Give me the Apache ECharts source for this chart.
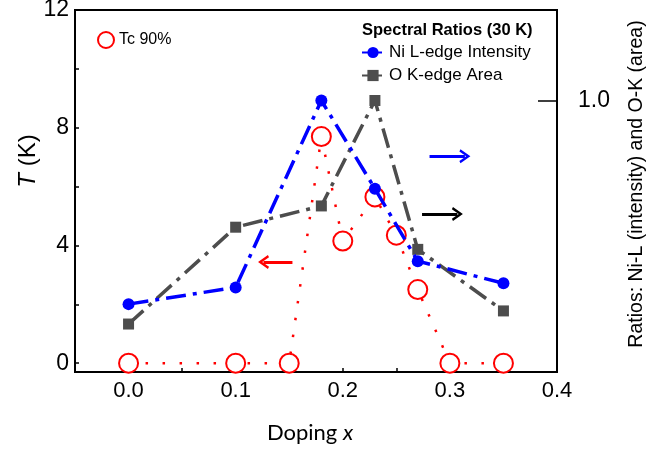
<!DOCTYPE html>
<html>
<head>
<meta charset="utf-8">
<script src="https://cdn.jsdelivr.net/npm/echarts@6/dist/echarts.min.js"></script>
<style>
  html, body { margin: 0; padding: 0; background: #fff; }
  #chart { width: 646px; height: 453px; }
</style>
</head>
<body>
<div id="chart"></div>
<script>
// Tc 90% (left axis, K)
var dopingTc = [0, 0.1, 0.15, 0.18, 0.2, 0.23, 0.25, 0.27, 0.3, 0.35];
var tc90 = [0, 0, 0, 7.7, 4.15, 5.65, 4.35, 2.5, 0, 0];

// spectral ratios at 30 K (right axis)
var dopingRatio = [0, 0.1, 0.18, 0.23, 0.27, 0.35];
var niL = [0.55, 0.587, 1.0, 0.805, 0.645, 0.596];
var oK = [0.506, 0.72, 0.767, 1.0, 0.671, 0.535];

var xLabels = [0, 0.1, 0.2, 0.3, 0.4];
var xTicks = [0, 0.05, 0.1, 0.15, 0.2, 0.25, 0.3, 0.35];
var yLabels = [0, 4, 8, 12];
var yTicks = [0, 2, 4, 6, 8, 10];
var ratioLabels = [1.0];

// annotation arrows [from, to]
var arrowTc = [[0.153, 3.44], [0.126, 3.44]];
var arrowNi = [[0.281, 0.877], [0.314, 0.877]];
var arrowO = [[0.274, 0.749], [0.307, 0.749]];

var chevron = 'path://M5,0 L10,9 L8.4,10 L5,3.8 L1.6,10 L0,9 Z';
var font = 'Liberation Sans, Arial, sans-serif';

function pairs(xs, ys) {
	return xs.map(function(x, i) { return [x, ys[i]]; });
}

function arrowLine(a, color) {
	return {
		silent: true,
		symbol: ['none', chevron],
		symbolSize: [14, 11],
		label: { show: false },
		lineStyle: { color: color, width: 3, type: 'solid' },
		emphasis: { disabled: true },
		data: [[{ coord: a[0] }, { coord: a[1] }]]
	};
}

var myChart = echarts.init(document.getElementById('chart'));

var option = {
	animation: false,
	backgroundColor: '#fff',
	textStyle: { fontFamily: font },
	title: {
		text: 'Spectral Ratios (30 K)',
		left: 362,
		top: 22,
		padding: 0,
		textStyle: { fontFamily: font, fontSize: 16.5, fontWeight: 'bold', color: '#000' }
	},
	legend: [{
		data: ['Tc 90%'],
		left: 97,
		top: 31,
		padding: 0,
		icon: 'emptyCircle',
		itemWidth: 16,
		itemHeight: 16,
		textStyle: { fontFamily: font, fontSize: 16, color: '#000' }
	}, {
		data: ['Ni L-edge Intensity', 'O K-edge Area'],
		left: 361,
		top: 44,
		padding: 0,
		orient: 'vertical',
		itemGap: 6,
		itemWidth: 22,
		itemHeight: 14,
		textStyle: { fontFamily: font, fontSize: 17, color: '#000' }
	}],
	grid: {
		left: 75,
		right: 89,
		top: 10,
		bottom: 81,
		outerBoundsMode: 'none',
		show: true,
		borderColor: '#000',
		borderWidth: 2
	},
	xAxis: {
		type: 'value',
		min: -0.05,
		max: 0.4,
		name: 'Doping {i|x}',
		nameLocation: 'middle',
		nameGap: 50,
		nameMoveOverlap: false,
		nameTextStyle: {
			fontFamily: 'Lato, Open Sans, sans-serif',
			fontSize: 22,
			color: '#000',
			padding: [0, 12, 0, 0],
			rich: { i: { fontFamily: 'Lato, Open Sans, sans-serif', fontSize: 22, fontStyle: 'italic', color: '#000' } }
		},
		axisLine: { onZero: false, lineStyle: { color: '#000', width: 2 } },
		axisTick: { inside: true, length: 4, customValues: xTicks, lineStyle: { color: '#000', width: 1.5 } },
		axisLabel: {
			customValues: xLabels,
			margin: 8,
			fontSize: 22,
			color: '#000',
			formatter: function(v) { return v.toFixed(1); }
		},
		splitLine: { show: false }
	},
	yAxis: [{
		type: 'value',
		min: -0.3,
		max: 12,
		name: '{i|T} (K)',
		nameLocation: 'middle',
		nameGap: 35,
		nameMoveOverlap: false,
		nameRotate: 90,
		nameTextStyle: {
			fontSize: 24,
			color: '#000',
			padding: [0, 0, 0, 60],
			rich: { i: { fontSize: 24, fontStyle: 'italic', color: '#000' } }
		},
		axisLine: { onZero: false, lineStyle: { color: '#000', width: 2 } },
		axisTick: { inside: true, length: 4, customValues: yTicks, lineStyle: { color: '#000', width: 1.5 } },
		axisLabel: { customValues: yLabels, margin: 6, fontSize: 23, color: '#000' },
		splitLine: { show: false }
	}, {
		type: 'value',
		position: 'right',
		min: 0.4,
		max: 1.2,
		name: 'Ratios: Ni-L (intensity) and O-K (area)',
		nameLocation: 'middle',
		nameGap: 70,
		nameMoveOverlap: false,
		nameRotate: 90,
		nameTextStyle: { fontSize: 19.5, color: '#000', padding: [0, 0, 0, 14] },
		axisLine: { show: true, onZero: false, lineStyle: { color: '#000', width: 2 } },
		axisTick: { inside: true, length: 19, customValues: ratioLabels, lineStyle: { color: '#000', width: 1.5 } },
		axisLabel: {
			customValues: ratioLabels,
			margin: 21,
			fontSize: 23,
			color: '#000',
			formatter: function(v) { return v.toFixed(1); }
		},
		splitLine: { show: false }
	}],
	series: [{
		name: 'Tc 90%',
		type: 'line',
		yAxisIndex: 0,
		data: pairs(dopingTc, tc90),
		symbol: 'emptyCircle',
		symbolSize: 19,
		color: '#ff0000',
		itemStyle: { color: '#ff0000', borderColor: '#ff0000', borderWidth: 1.5 },
		lineStyle: { color: '#ff0000', width: 2.5, type: [2.5, 14.5] },
		markLine: arrowLine(arrowTc, '#ff0000'),
		z: 2
	}, {
		name: 'Ni L-edge Intensity',
		type: 'line',
		yAxisIndex: 1,
		data: pairs(dopingRatio, niL),
		symbol: 'circle',
		symbolSize: 12,
		color: '#0000ff',
		itemStyle: { color: '#0000ff' },
		lineStyle: { color: '#0000ff', width: 3.5, type: [20, 7, 4, 7] },
		markLine: arrowLine(arrowNi, '#0000ff'),
		z: 4
	}, {
		name: 'O K-edge Area',
		type: 'line',
		yAxisIndex: 1,
		data: pairs(dopingRatio, oK),
		symbol: 'rect',
		symbolSize: 11,
		color: '#4d4d4d',
		itemStyle: { color: '#4d4d4d' },
		lineStyle: { color: '#4d4d4d', width: 3.5, type: [20, 7, 4, 7] },
		markLine: arrowLine(arrowO, '#000000'),
		z: 3
	}]
};

myChart.setOption(option);
</script>
</body>
</html>
